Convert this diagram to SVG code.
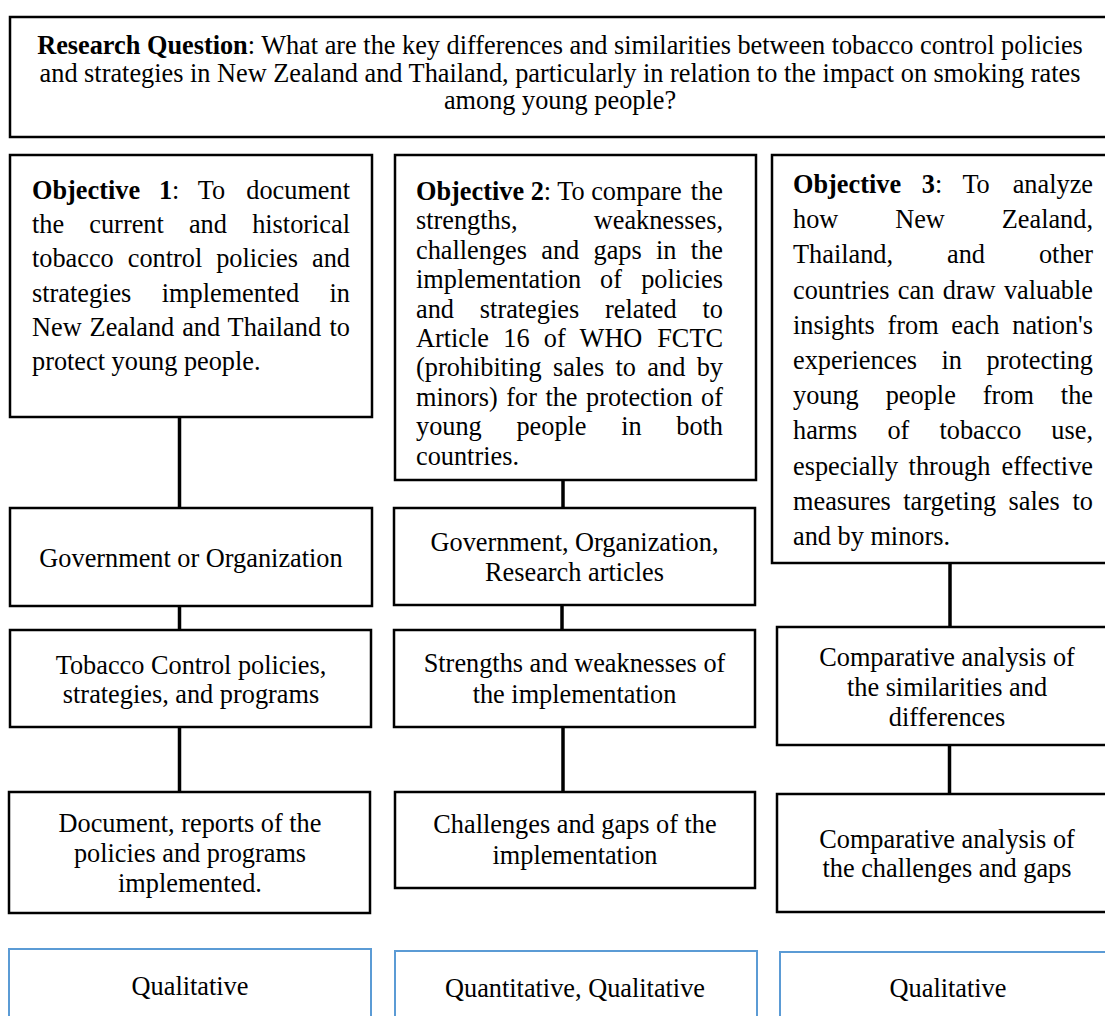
<svg xmlns="http://www.w3.org/2000/svg" width="1105" height="1016" viewBox="0 0 1105 1016">
<style>
.box{fill:#fff;stroke:#000;stroke-width:2.5}
.bbox{fill:#fff;stroke:#5B9BD5;stroke-width:2}
text{font-family:"Liberation Serif","Times New Roman",serif;font-size:26.3px;fill:#000}
.c{text-anchor:middle}
.e{text-anchor:end}
.b{font-weight:bold}
#connectors line{stroke:#000;stroke-width:3.5}
</style>
<rect width="1105" height="1016" fill="#fff"/>
<g id="connectors">
<line x1="179.5" y1="417" x2="179.5" y2="508"/>
<line x1="179.5" y1="606" x2="179.5" y2="630"/>
<line x1="179.5" y1="727" x2="179.5" y2="792"/>
<line x1="563" y1="480" x2="563" y2="508"/>
<line x1="562" y1="605" x2="562" y2="630"/>
<line x1="563" y1="727" x2="563" y2="792"/>
<line x1="950" y1="563" x2="950" y2="627"/>
<line x1="949.5" y1="745" x2="949.5" y2="794"/>
</g>
<g id="research">
<rect class="box" x="10" y="17" width="1110" height="120"/>
<text class="c" x="560" y="54"><tspan class="b">Research Question</tspan>: What are the key differences and similarities between tobacco control policies</text>
<text class="c" x="560" y="81.5">and strategies in New Zealand and Thailand, particularly in relation to the impact on smoking rates</text>
<text class="c" x="560" y="109">among young people?</text>
</g>
<g id="objective1">
<rect class="box" x="10" y="155" width="362" height="262"/>
<text x="32" y="199" style="word-spacing:12.3px"><tspan class="b">Objective 1</tspan>: To</text><text class="e" x="350" y="199">document</text>
<text x="32" y="233.2" style="word-spacing:18.6px">the current and</text><text class="e" x="350" y="233.2">historical</text>
<text x="32" y="267.4" style="word-spacing:7.4px">tobacco control policies</text><text class="e" x="350" y="267.4">and</text>
<text x="32" y="301.6" style="word-spacing:23.9px">strategies implemented</text><text class="e" x="350" y="301.6">in</text>
<text x="32" y="335.8" style="word-spacing:1.35px">New Zealand and Thailand</text><text class="e" x="350" y="335.8">to</text>
<text x="32" y="370">protect young people.</text>
</g>
<g id="objective2">
<rect class="box" x="395" y="155" width="361" height="325"/>
<text x="416" y="200"><tspan class="b">Objective 2</tspan>: To compare</text><text class="e" x="723" y="200">the</text>
<text x="416" y="229.4">strengths,</text><text class="e" x="723" y="229.4">weaknesses,</text>
<text x="416" y="258.8" style="word-spacing:7.7px">challenges and gaps in</text><text class="e" x="723" y="258.8">the</text>
<text x="416" y="288.2" style="word-spacing:12.5px">implementation of</text><text class="e" x="723" y="288.2">policies</text>
<text x="416" y="317.6" style="word-spacing:19.3px">and strategies related</text><text class="e" x="723" y="317.6">to</text>
<text x="416" y="347" style="word-spacing:7.7px">Article 16 of WHO</text><text class="e" x="723" y="347">FCTC</text>
<text x="416" y="376.4" style="word-spacing:4.8px">(prohibiting sales to and</text><text class="e" x="723" y="376.4">by</text>
<text x="416" y="405.8" style="word-spacing:1.9px">minors) for the protection</text><text class="e" x="723" y="405.8">of</text>
<text x="416" y="435.2" style="word-spacing:28.1px">young people in</text><text class="e" x="723" y="435.2">both</text>
<text x="416" y="464.6">countries.</text>
</g>
<g id="objective3">
<rect class="box" x="772" y="155" width="345" height="408"/>
<text x="793" y="193" style="word-spacing:14.1px"><tspan class="b">Objective 3</tspan>: To</text><text class="e" x="1093" y="193">analyze</text>
<text x="793" y="228.2" style="word-spacing:50.3px">how New</text><text class="e" x="1093" y="228.2">Zealand,</text>
<text x="793" y="263.4" style="word-spacing:47.4px">Thailand, and</text><text class="e" x="1093" y="263.4">other</text>
<text x="793" y="298.6" style="word-spacing:1.9px">countries can draw</text><text class="e" x="1093" y="298.6">valuable</text>
<text x="793" y="333.8" style="word-spacing:6.1px">insights from each</text><text class="e" x="1093" y="333.8">nation's</text>
<text x="793" y="369" style="word-spacing:17.8px">experiences in</text><text class="e" x="1093" y="369">protecting</text>
<text x="793" y="404.2" style="word-spacing:20.4px">young people from</text><text class="e" x="1093" y="404.2">the</text>
<text x="793" y="439.4" style="word-spacing:23.6px">harms of tobacco</text><text class="e" x="1093" y="439.4">use,</text>
<text x="793" y="474.6" style="word-spacing:3.9px">especially through</text><text class="e" x="1093" y="474.6">effective</text>
<text x="793" y="509.8" style="word-spacing:5.8px">measures targeting sales</text><text class="e" x="1093" y="509.8">to</text>
<text x="793" y="545">and by minors.</text>
</g>
<g id="source1">
<rect class="box" x="10" y="508" width="362" height="98"/>
<text class="c" x="191" y="567">Government or Organization</text>
</g>
<g id="content1">
<rect class="box" x="10" y="630" width="361" height="97"/>
<text class="c" x="191" y="674">Tobacco Control policies,</text>
<text class="c" x="191" y="703">strategies, and programs</text>
</g>
<g id="output1">
<rect class="box" x="9" y="792" width="361" height="121"/>
<text class="c" x="190" y="832">Document, reports of the</text>
<text class="c" x="190" y="862">policies and programs</text>
<text class="c" x="190" y="892">implemented.</text>
</g>
<g id="method1">
<rect class="bbox" x="9" y="949" width="362" height="90"/>
<text class="c" x="190" y="995">Qualitative</text>
</g>
<g id="source2">
<rect class="box" x="394" y="508" width="361" height="97"/>
<text class="c" x="574.5" y="551">Government, Organization,</text>
<text class="c" x="574.5" y="581">Research articles</text>
</g>
<g id="content2">
<rect class="box" x="394" y="630" width="361" height="97"/>
<text class="c" x="574.5" y="672">Strengths and weaknesses of</text>
<text class="c" x="574.5" y="703">the implementation</text>
</g>
<g id="output2">
<rect class="box" x="395" y="792" width="360" height="96"/>
<text class="c" x="575" y="833">Challenges and gaps of the</text>
<text class="c" x="575" y="864">implementation</text>
</g>
<g id="method2">
<rect class="bbox" x="395" y="951" width="362" height="90"/>
<text class="c" x="575" y="997">Quantitative, Qualitative</text>
</g>
<g id="content3">
<rect class="box" x="777" y="627" width="340" height="118"/>
<text class="c" x="947" y="666">Comparative analysis of</text>
<text class="c" x="947" y="696">the similarities and</text>
<text class="c" x="947" y="726">differences</text>
</g>
<g id="output3">
<rect class="box" x="777" y="794" width="340" height="118"/>
<text class="c" x="947" y="848">Comparative analysis of</text>
<text class="c" x="947" y="877">the challenges and gaps</text>
</g>
<g id="method3">
<rect class="bbox" x="780" y="952" width="340" height="90"/>
<text class="c" x="948" y="997">Qualitative</text>
</g>
</svg>
